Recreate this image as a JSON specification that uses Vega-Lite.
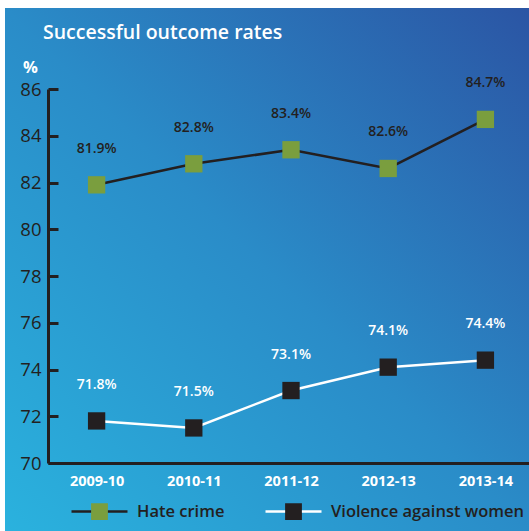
{
  "$schema": "https://vega.github.io/schema/vega-lite/v6.json",
  "width": 524,
  "height": 523,
  "autosize": {"type": "none"},
  "padding": {"left": 5, "top": 8, "right": 0, "bottom": 0},
  "background": "white",
  "view": {
    "stroke": null,
    "fill": {
      "gradient": "linear",
      "x1": 0, "y1": 1, "x2": 1, "y2": 0,
      "stops": [
        {"offset": 0, "color": "#2ab2de"},
        {"offset": 0.5, "color": "#2a8cc8"},
        {"offset": 1, "color": "#2b55a4"}
      ]
    }
  },
  "title": {
    "text": "Successful outcome rates",
    "anchor": "start",
    "frame": "group",
    "color": "white",
    "font": "Open Sans",
    "fontSize": 19.5,
    "fontWeight": 600,
    "offset": -35,
    "dx": 38
  },
  "data": {
    "values": [
      {"year": "2009-10", "series": "Hate crime", "rate": 81.9},
      {"year": "2010-11", "series": "Hate crime", "rate": 82.8},
      {"year": "2011-12", "series": "Hate crime", "rate": 83.4},
      {"year": "2012-13", "series": "Hate crime", "rate": 82.6},
      {"year": "2013-14", "series": "Hate crime", "rate": 84.7},
      {"year": "2009-10", "series": "Violence against women", "rate": 71.8},
      {"year": "2010-11", "series": "Violence against women", "rate": 71.5},
      {"year": "2011-12", "series": "Violence against women", "rate": 73.1},
      {"year": "2012-13", "series": "Violence against women", "rate": 74.1},
      {"year": "2013-14", "series": "Violence against women", "rate": 74.4}
    ]
  },
  "transform": [
    {"calculate": "format(datum.rate, '.1f') + '%'", "as": "label"}
  ],
  "encoding": {
    "x": {
      "field": "year",
      "type": "ordinal",
      "scale": {"type": "point", "range": [43, 529], "padding": 0.5},
      "axis": {
        "title": null,
        "offset": -68,
        "labelAngle": 0,
        "ticks": false,
        "labelPadding": 11,
        "labelColor": "white",
        "labelFont": "Open Sans",
        "labelFontSize": 14.5,
        "labelFontWeight": "bold",
        "domainColor": "#231f20",
        "domainWidth": 3
      }
    }
  },
  "resolve": {"axis": {"y": "independent"}},
  "layer": [
    {
      "mark": {"type": "line", "strokeWidth": 2.5},
      "encoding": {
        "y": {
          "field": "rate",
          "type": "quantitative",
          "scale": {"domain": [70, 86], "range": [455, 81], "zero": false, "nice": false},
          "axis": {
            "orient": "left",
            "title": "%",
            "titleAngle": 0,
            "titleX": -18,
            "titleY": 59,
            "titleAlign": "center",
            "titleBaseline": "middle",
            "titleColor": "white",
            "titleFont": "Open Sans",
            "titleFontSize": 16.5,
            "titleFontWeight": "bold",
            "offset": -43,
            "values": [70, 72, 74, 76, 78, 80, 82, 84, 86],
            "grid": false,
            "ticks": false,
            "labelPadding": 7,
            "labelColor": "#231f20",
            "labelFont": "Open Sans",
            "labelFontSize": 18.5,
            "labelFontWeight": 400,
            "domainColor": "#231f20",
            "domainWidth": 3
          }
        },
        "stroke": {
          "field": "series",
          "type": "nominal",
          "scale": {"domain": ["Hate crime", "Violence against women"], "range": ["#231f20", "#ffffff"]},
          "legend": {
            "title": null,
            "orient": "none",
            "direction": "horizontal",
            "legendX": 65,
            "legendY": 474,
            "symbolType": "M-1,0H-0.3V-0.3H0.3V0.3H-0.3V0M0.3,0H1",
            "symbolSize": 3136,
            "symbolStrokeWidth": 2.5,
            "symbolDash": [19.6, 67.2],
            "labelFont": "Open Sans",
            "labelFontSize": 16.5,
            "labelFontWeight": 600,
            "labelColor": "#231f20",
            "labelOffset": 8,
            "labelLimit": 400,
            "columnPadding": 35
          }
        }
      }
    },
    {
      "mark": {"type": "point", "shape": "square", "filled": true, "size": 300, "opacity": 1},
      "encoding": {
        "y": {
          "field": "rate",
          "type": "quantitative",
          "axis": {
            "orient": "right",
            "offset": -481,
            "title": null,
            "values": [70, 72, 74, 76, 78, 80, 82, 84, 86],
            "grid": false,
            "labels": false,
            "domain": false,
            "ticks": true,
            "tickSize": 10,
            "tickWidth": 3,
            "tickColor": "#231f20"
          }
        },
        "fill": {
          "field": "series",
          "type": "nominal",
          "scale": {"domain": ["Hate crime", "Violence against women"], "range": ["#7a9e3e", "#231f20"]}
        }
      }
    },
    {
      "mark": {"type": "text", "dy": -36, "font": "Open Sans", "fontSize": 14, "fontWeight": 600},
      "encoding": {
        "y": {"field": "rate", "type": "quantitative", "axis": null},
        "text": {"field": "label"},
        "color": {
          "field": "series",
          "type": "nominal",
          "scale": {"domain": ["Hate crime", "Violence against women"], "range": ["#231f20", "#ffffff"]},
          "legend": null
        }
      }
    }
  ]
}
